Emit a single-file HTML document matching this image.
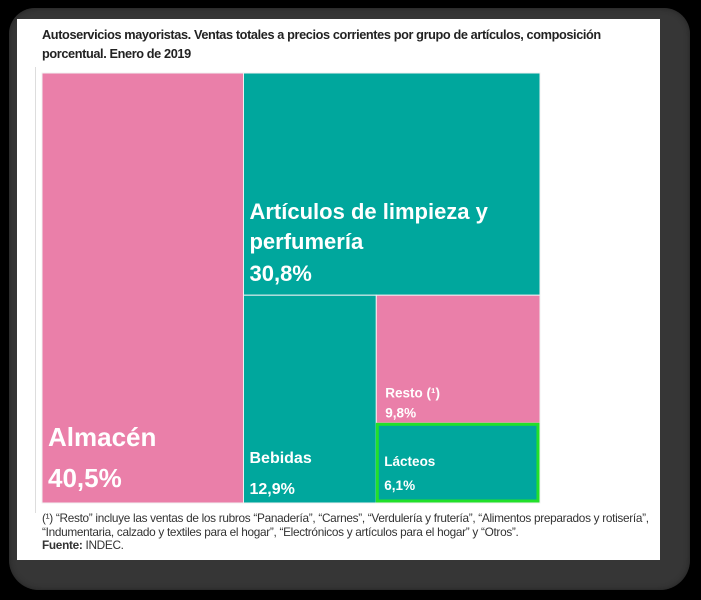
<!DOCTYPE html>
<html><head><meta charset="utf-8">
<style>
html,body{margin:0;padding:0;background:#000;width:701px;height:600px;overflow:hidden;font-family:"Liberation Sans",sans-serif;}
#frame{position:absolute;left:9px;top:8px;width:681px;height:582px;background:#363636;border-radius:26px 26px 30px 30px;box-shadow:inset 0 0 6px #222;}
#panel{position:absolute;left:17px;top:19px;width:643px;height:541px;background:#fff;}
.title{position:absolute;left:42px;font-weight:bold;font-size:13px;color:#222;letter-spacing:-0.4px;transform:scaleX(0.98);transform-origin:left;white-space:nowrap;}
.note{position:absolute;left:42px;font-size:11.8px;color:#333;letter-spacing:-0.3px;white-space:nowrap;}
#vline{position:absolute;left:35px;top:67px;width:1px;height:446px;background:#ddd;}
svg{position:absolute;left:0;top:0;}
</style></head><body>
<div id="frame"></div>
<div id="panel"></div>
<div class="title" style="top:27px">Autoservicios mayoristas. Ventas totales a precios corrientes por grupo de artículos, composición</div>
<div class="title" style="top:46px">porcentual. Enero de 2019</div>
<div id="vline"></div>
<svg id="tm" width="701" height="600"></svg>
<div class="note" style="top:511px">(¹) “Resto” incluye las ventas de los rubros “Panadería”, “Carnes”, “Verdulería y frutería”, “Alimentos preparados y rotisería”,</div>
<div class="note" style="top:525px">“Indumentaria, calzado y textiles para el hogar”, “Electrónicos y artículos para el hogar” y “Otros”.</div>
<div class="note" style="top:538px"><b>Fuente:</b> INDEC.</div>
<script>
const categories=["Almacén","Artículos de limpieza y perfumería","Bebidas","Resto (¹)","Lácteos"];
const values=[40.5,30.8,12.9,9.8,6.1];
const labels=["40,5%","30,8%","12,9%","9,8%","6,1%"];
const X0=42,Y0=73,W=498,H=430;
const svg=document.getElementById('tm');
const NS='http://www.w3.org/2000/svg';
const total=values.reduce((a,b)=>a+b,0);
const r=[];
const w0=W*values[0]/total;
r[0]=[X0,Y0,w0,H];
const rx=X0+w0,rw=W-w0,rest=total-values[0];
const h1=H*values[1]/rest;
r[1]=[rx,Y0,rw,h1];
const by=Y0+h1,bh=H-h1,rest2=rest-values[1];
const w2=rw*values[2]/rest2;
r[2]=[rx,by,w2,bh];
const cx=rx+w2,cw=rw-w2,rest3=rest2-values[2];
const h3=bh*values[3]/rest3;
r[3]=[cx,by,cw,h3];
r[4]=[cx,by+h3,cw,bh-h3];
const colors=["#ea7fa9","#00a79d","#00a79d","#ea7fa9","#00a79d"];
const fs=[26,22,16,13.5,13.5];
function txt(x,y,s,size,name){const t=document.createElementNS(NS,'text');t.setAttribute('x',x);t.setAttribute('y',y);t.setAttribute('fill','#fff');t.setAttribute('font-weight','bold');t.setAttribute('font-size',size);t.setAttribute('font-family','"Liberation Sans",sans-serif');t.textContent=s;


svg.appendChild(t);}
r.forEach((b,i)=>{const re=document.createElementNS(NS,'rect');re.setAttribute('x',b[0]);re.setAttribute('y',b[1]);re.setAttribute('width',b[2]);re.setAttribute('height',b[3]);re.setAttribute('fill',colors[i]);re.setAttribute('stroke','#f2f2f2');re.setAttribute('stroke-width','1');


svg.appendChild(re);
const lx=b[0]+6,by2=b[1]+b[3];
if(i===0){txt(lx,by2-57,categories[0],fs[0],'label-almacen');txt(lx,by2-16,labels[0],fs[0],'value-almacen');}
if(i===1){txt(lx,b[1]+146,"Artículos de limpieza y",fs[1],'label-limpieza-1');txt(lx,b[1]+176,"perfumería",fs[1],'label-limpieza-2');txt(lx,b[1]+208,labels[1],fs[1],'value-limpieza');}
if(i===2){txt(lx,by2-40,categories[2],fs[2],'label-bebidas');txt(lx,by2-9,labels[2],fs[2],'value-bebidas');}
if(i===3){txt(lx+3,by2-26,categories[3],fs[3],'label-resto');txt(lx+3,by2-6,labels[3],fs[3],'value-resto');}
if(i===4){const g=document.createElementNS(NS,'rect');g.setAttribute('x',b[0]+1);g.setAttribute('y',b[1]+1);g.setAttribute('width',b[2]-3);g.setAttribute('height',b[3]-3);g.setAttribute('fill','none');g.setAttribute('stroke','#22e02a');g.setAttribute('stroke-width','3');


svg.appendChild(g);
txt(lx+2,by2-37,categories[4],fs[4],'label-lacteos');txt(lx+2,by2-13,labels[4],fs[4],'value-lacteos');}
});
</script>
</body></html>
